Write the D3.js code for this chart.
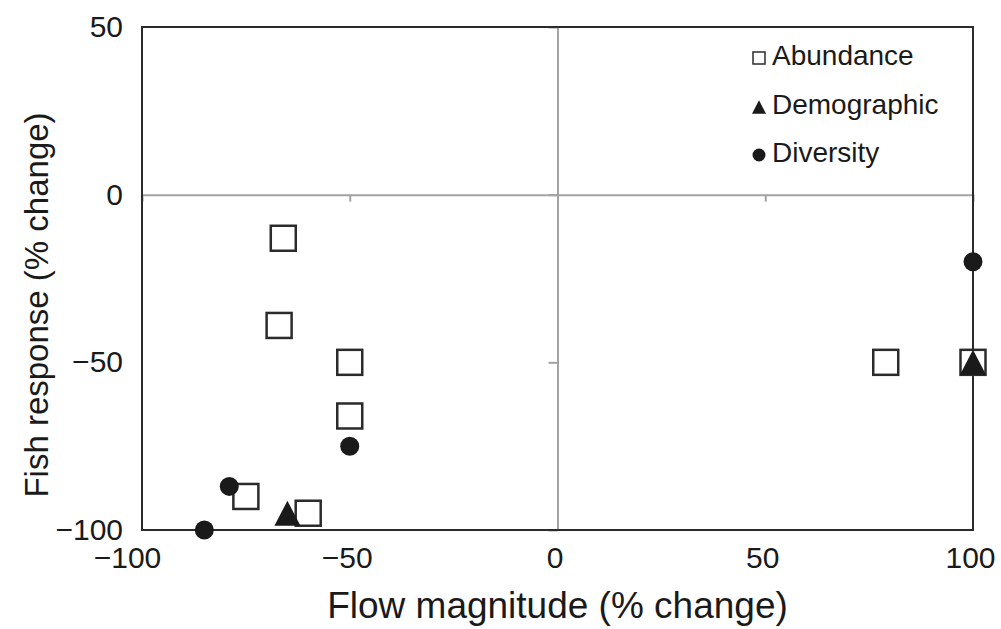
<!DOCTYPE html>
<html>
<head>
<meta charset="utf-8">
<script src="https://cdn.jsdelivr.net/npm/d3@7"></script>
<style>
  body { margin: 0; background: #fff; }
  text { font-family: "Liberation Sans", Arial, Helvetica, sans-serif; fill: #1a1a1a; }
</style>
</head>
<body>
<div id="chart"></div>
<script>
// Chart size
var svgWidth = 1001;
var svgHeight = 629;

// Plot box in pixels
var margin = { top: 27, right: 28, bottom: 99, left: 142 };
var width = svgWidth - margin.left - margin.right;
var height = svgHeight - margin.top - margin.bottom;

// Data
var abundanceX = [-66, -67, -50, -50, -75, -60, 79, 100];
var abundanceY = [-13, -39, -50, -66, -90, -95, -50, -50];
var demographicX = [-65, 100];
var demographicY = [-95, -50];
var diversityX = [-50, -79, -85, 100];
var diversityY = [-75, -87, -100, -20];

var xTicks = [-100, -50, 0, 50, 100];
var yTicks = [50, 0, -50, -100];
var legendLabels = ["Abundance", "Demographic", "Diversity"];

var svg = d3.select("#chart")
  .append("svg")
  .attr("width", svgWidth)
  .attr("height", svgHeight);

var chartGroup = svg.append("g")
  .attr("transform", `translate(${margin.left}, ${margin.top})`);

// Scales
var xScale = d3.scaleLinear().domain([-100, 100]).range([0, width]);
var yScale = d3.scaleLinear().domain([-100, 50]).range([height, 0]);

var grey = "#a3a3a3";
var dark = "#2b2b2b";

// Zero lines with ticks (grey)
var zeroX = chartGroup.append("g")
  .attr("transform", `translate(0, ${yScale(0)})`)
  .call(d3.axisBottom(xScale).tickValues(xTicks).tickSize(7).tickSizeOuter(0).tickFormat(""));

var zeroY = chartGroup.append("g")
  .attr("transform", `translate(${xScale(0)}, 0)`)
  .call(d3.axisLeft(yScale).tickValues(yTicks).tickSize(9).tickSizeOuter(0).tickFormat(""));

[zeroX, zeroY].forEach(function(g) {
  g.select(".domain").attr("stroke", grey).attr("stroke-width", 2);
  g.selectAll(".tick line").attr("stroke", grey).attr("stroke-width", 2);
});

// Outer box
chartGroup.append("rect")
  .attr("x", 0)
  .attr("y", 0)
  .attr("width", width)
  .attr("height", height)
  .attr("fill", "none")
  .attr("stroke", dark)
  .attr("stroke-width", 2);

// Bottom tick labels
var bottomLabels = chartGroup.append("g")
  .attr("transform", `translate(0, ${height})`)
  .call(d3.axisBottom(xScale).tickValues(xTicks).tickSize(0).tickPadding(17));
bottomLabels.select(".domain").remove();
bottomLabels.selectAll("text")
  .attr("font-size", "30px")
  .attr("fill", "#1a1a1a")
  .attr("dx", d => d === -100 ? -15 : -3);

// Left tick labels
var leftLabels = chartGroup.append("g")
  .call(d3.axisLeft(yScale).tickValues(yTicks).tickSize(0).tickPadding(19));
leftLabels.select(".domain").remove();
leftLabels.selectAll("text")
  .attr("font-size", "30px")
  .attr("fill", "#1a1a1a");

// Axis titles
svg.append("text")
  .attr("x", margin.left + xScale(0))
  .attr("y", 618)
  .attr("text-anchor", "middle")
  .attr("font-size", "37px")
  .text("Flow magnitude (% change)");

svg.append("text")
  .attr("transform", `translate(48, 305) rotate(-90)`)
  .attr("text-anchor", "middle")
  .attr("font-size", "33px")
  .text("Fish response (% change)");

// Markers
var abundance = abundanceX.map((x, i) => ({ x: x, y: abundanceY[i] }));
var demographic = demographicX.map((x, i) => ({ x: x, y: demographicY[i] }));
var diversity = diversityX.map((x, i) => ({ x: x, y: diversityY[i] }));

var sq = 25;
chartGroup.selectAll(".abundance")
  .data(abundance)
  .enter()
  .append("rect")
  .classed("abundance", true)
  .attr("x", d => xScale(d.x) - sq / 2)
  .attr("y", d => yScale(d.y) - sq / 2)
  .attr("width", sq)
  .attr("height", sq)
  .attr("fill", "#fff")
  .attr("stroke", dark)
  .attr("stroke-width", 2.5);

function triangle(s) {
  var h = s * 0.96;
  return `M0,${-h / 2}L${s / 2},${h / 2}L${-s / 2},${h / 2}Z`;
}

chartGroup.selectAll(".demographic")
  .data(demographic)
  .enter()
  .append("path")
  .classed("demographic", true)
  .attr("transform", d => `translate(${xScale(d.x)}, ${yScale(d.y)})`)
  .attr("d", triangle(26))
  .attr("fill", "#1a1a1a");

chartGroup.selectAll(".diversity")
  .data(diversity)
  .enter()
  .append("circle")
  .classed("diversity", true)
  .attr("cx", d => xScale(d.x))
  .attr("cy", d => yScale(d.y))
  .attr("r", 9.5)
  .attr("fill", "#1a1a1a");

// Legend
var legend = svg.append("g").attr("transform", "translate(759, 0)");
var legendY = [58, 107, 155];

legend.append("rect")
  .attr("x", -6).attr("y", legendY[0] - 6)
  .attr("width", 12).attr("height", 12)
  .attr("fill", "#fff").attr("stroke", dark).attr("stroke-width", 1.5);

legend.append("path")
  .attr("transform", `translate(0, ${legendY[1]})`)
  .attr("d", triangle(14))
  .attr("fill", "#1a1a1a");

legend.append("circle")
  .attr("cx", 0).attr("cy", legendY[2])
  .attr("r", 6.5)
  .attr("fill", "#1a1a1a");

legend.selectAll(".legendText")
  .data(legendLabels)
  .enter()
  .append("text")
  .classed("legendText", true)
  .attr("x", 13)
  .attr("y", (d, i) => legendY[i] + 7)
  .attr("font-size", "28px")
  .text(d => d);
</script>
</body>
</html>
